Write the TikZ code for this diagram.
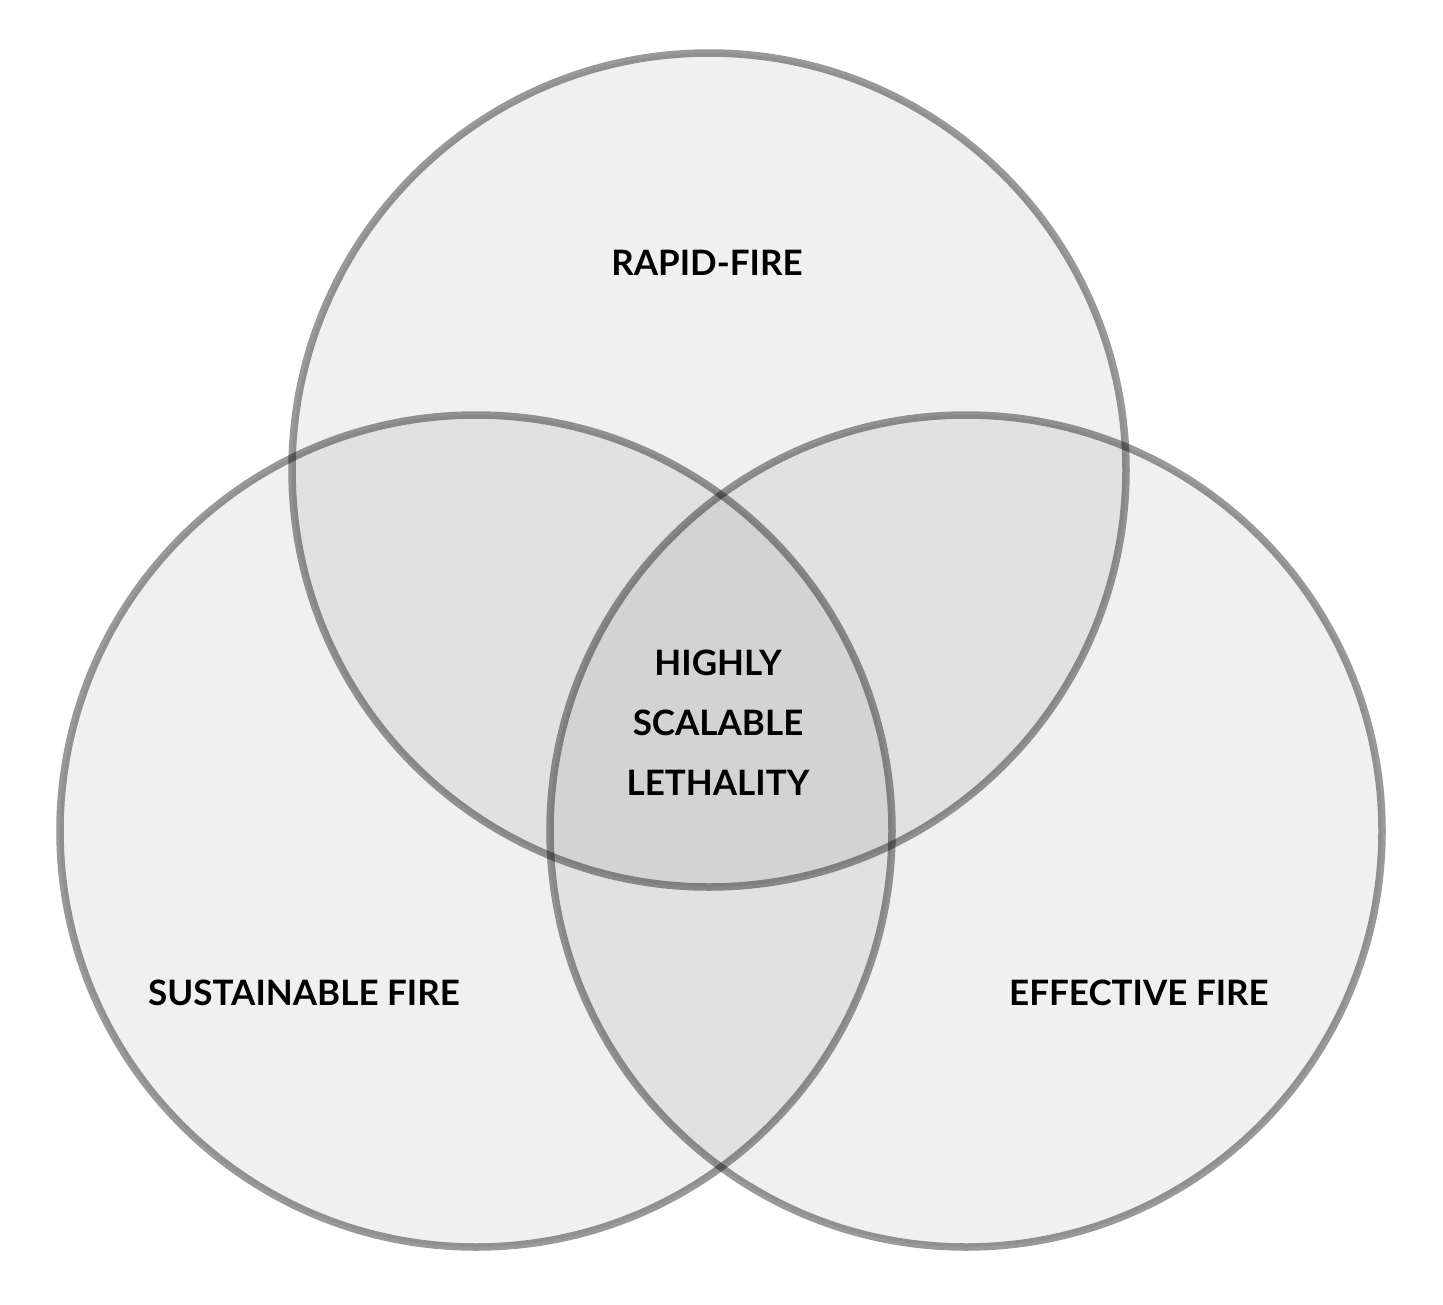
\documentclass[tikz,border=0pt]{standalone}
\usepackage{fontspec}
\setmainfont{Lato}
\begin{document}
\begin{tikzpicture}[x=1pt,y=-1pt,
  venn/.style={fill=black,fill opacity=0.059,draw=black,draw opacity=0.4,line width=7.5pt},
  lbl/.style={font=\fontsize{35}{60}\selectfont\bfseries,text=black,inner sep=0pt,align=center}]
\useasboundingbox[fill=white] (0,0) rectangle (1443,1304);
\path[venn] (709,470) circle[radius=417];
\path[venn] (476,831) circle[radius=416];
\path[venn] (966,831) circle[radius=416];
\node[lbl] (rapid) at (707,263) {RAPID-FIRE};
\node[lbl] (center) at (718,723) {HIGHLY\\SCALABLE\\LETHALITY};
\node[lbl] (sust) at (304,993) {SUSTAINABLE FIRE};
\node[lbl] (eff) at (1139,993) {EFFECTIVE FIRE};
\end{tikzpicture}
\end{document}
